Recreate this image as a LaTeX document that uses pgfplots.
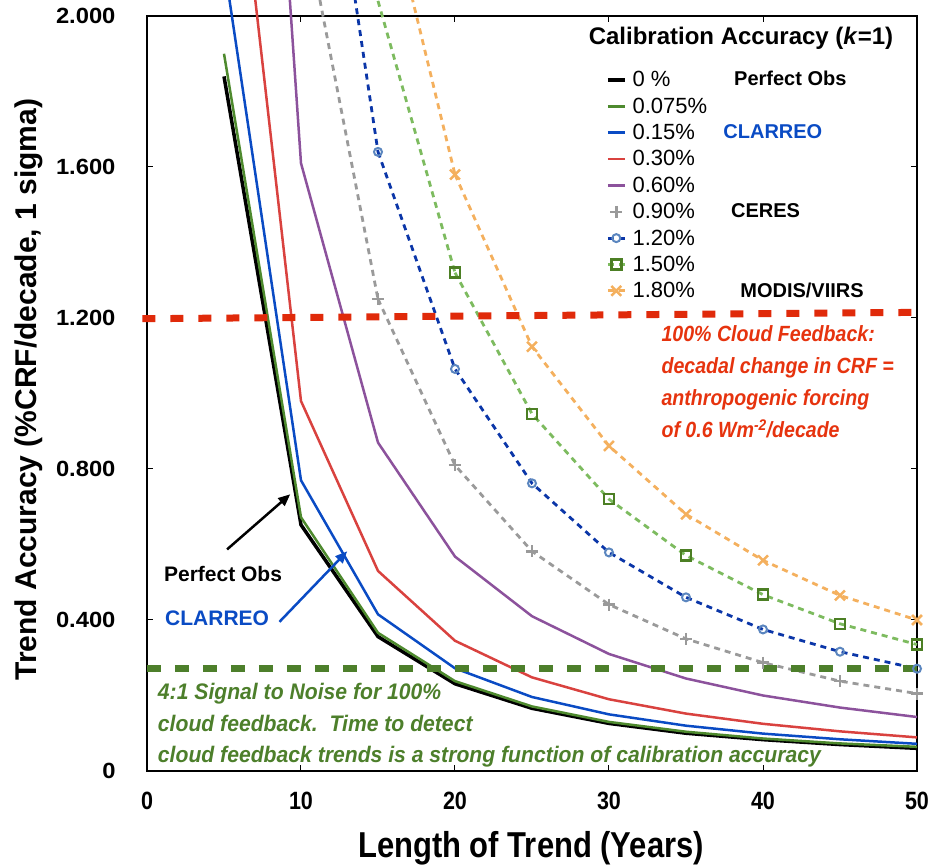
\documentclass[border=0pt]{standalone}
\usepackage{pgfplots}
\pgfplotsset{compat=1.18}
\usepackage{fontspec}
\setmainfont{Liberation Sans}
\newfontfamily\wideb[FakeStretch=1.08]{Liberation Sans}
\newfontfamily\condb[FakeStretch=0.86]{Liberation Sans}
\newfontfamily\condr[FakeStretch=0.89]{Liberation Sans}
\newfontfamily\condg[FakeStretch=0.94]{Liberation Sans}
\usetikzlibrary{arrows.meta}
\definecolor{cgreen}{HTML}{4E8A2E}
\definecolor{cblue}{HTML}{0A4BC4}
\definecolor{cred}{HTML}{D9423F}
\definecolor{cpurple}{HTML}{8C529C}
\definecolor{cgray}{HTML}{9A9A9A}
\definecolor{cdblue}{HTML}{0B36A8}
\definecolor{clblue}{HTML}{5B86BF}
\definecolor{clgreen}{HTML}{7DBB5F}
\definecolor{cdgreen}{HTML}{4C7F24}
\definecolor{corange}{HTML}{F4B05E}
\definecolor{hred}{HTML}{E02A0A}
\definecolor{hgreen}{HTML}{4D7F2B}
\definecolor{tred}{HTML}{E6330E}
\pgfplotsset{
  dashcurve/.style={line width=2.8pt, dash pattern=on 6pt off 5pt},
}
\begin{document}
\begin{tikzpicture}
\useasboundingbox (-147pt,-95pt) rectangle (783pt,771pt);
\begin{axis}[
  scale only axis, width=770pt, height=755pt,
  xmin=0, xmax=50, ymin=0, ymax=2,
  clip=false,
  xtick={0,10,20,30,40,50}, xticklabels={0,10,20,30,40,50},
  ytick={0,0.4,0.8,1.2,1.6,2.0}, yticklabels={0,0.400,0.800,1.200,1.600,2.000},
  tick align=inside, major tick length=6pt, tick style={black, line width=1pt},
  axis line style={line width=1.2pt},
  xticklabel style={font=\condb\bfseries\fontsize{25}{25}\selectfont, yshift=-18pt},
  yticklabel style={font=\wideb\bfseries\fontsize{22}{22}\selectfont, xshift=-28pt},
  xlabel={Length of Trend (Years)},
  xlabel style={font=\condb\bfseries\fontsize{36}{36}\selectfont, at={(axis description cs:0.4987,-0.102)}, anchor=center},
  ylabel={Trend Accuracy (\%CRF/decade, 1 sigma)},
  ylabel style={font=\bfseries\fontsize{30}{30}\selectfont, at={(axis description cs:-0.154,0.505)}, anchor=center},
  legend style={draw=none, fill=none, at={(rel axis cs:0.592,0.932)}, anchor=north west,
    font=\fontsize{22}{24}\selectfont, row sep=5.5pt, nodes={inner xsep=6pt}},
  legend cell align=left,
]
\addplot[black, line width=3.5pt] coordinates {(5,1.84)(10,0.652)(15,0.356)(20,0.231)(25,0.166)(30,0.126)(35,0.100)(40,0.083)(45,0.070)(50,0.060)};
\addlegendentry{0 \%}
\addplot[cgreen, line width=2.5pt] coordinates {(5,1.90)(10,0.672)(15,0.366)(20,0.238)(25,0.171)(30,0.130)(35,0.104)(40,0.086)(45,0.073)(50,0.064)};
\addlegendentry{0.075\%}
\addplot[cblue, line width=2.5pt] coordinates {(5,2.14)(10,0.77)(15,0.415)(20,0.272)(25,0.196)(30,0.150)(35,0.120)(40,0.099)(45,0.084)(50,0.072)};
\addlegendentry{0.15\%}
\addplot[cred, line width=2.5pt] coordinates {(5,2.77)(10,0.98)(15,0.53)(20,0.345)(25,0.248)(30,0.190)(35,0.152)(40,0.125)(45,0.105)(50,0.089)};
\addlegendentry{0.30\%}
\addplot[cpurple, line width=2.5pt] coordinates {(5,4.6)(10,1.61)(15,0.87)(20,0.568)(25,0.41)(30,0.31)(35,0.245)(40,0.200)(45,0.168)(50,0.143)};
\addlegendentry{0.60\%}
% segments running above the top edge (no marks)
\addplot[cgray, dashcurve, forget plot] coordinates {(10,2.30)(15,1.25)};
\addplot[cdblue, dashcurve, forget plot] coordinates {(10,3.0)(15,1.64)};
\addplot[clgreen, dashcurve, forget plot] coordinates {(15,2.04)(20,1.32)};
\addplot[corange, dashcurve, forget plot] coordinates {(15,2.42)(20,1.58)};
% marked series
\addplot[cgray, dashcurve, mark=+, mark size=6pt, mark options={solid, line width=2.5pt}, legend image post style={only marks}] coordinates {(15,1.25)(20,0.81)(25,0.582)(30,0.441)(35,0.35)(40,0.287)(45,0.238)(50,0.205)};
\addlegendentry{0.90\%}
\addplot[cdblue, dashcurve, mark=o, mark size=4pt, mark options={solid, draw=clblue, fill=white, line width=2pt}] coordinates {(15,1.64)(20,1.065)(25,0.762)(30,0.579)(35,0.46)(40,0.375)(45,0.316)(50,0.271)};
\addlegendentry{1.20\%}
\addplot[clgreen, dashcurve, mark=square, mark size=5pt, mark options={solid, draw=cdgreen, fill=white, line width=2.5pt}] coordinates {(20,1.32)(25,0.946)(30,0.72)(35,0.571)(40,0.467)(45,0.39)(50,0.335)};
\addlegendentry{1.50\%}
\addplot[corange, dashcurve, mark=x, mark size=7pt, mark options={solid, line width=2.5pt}] coordinates {(20,1.58)(25,1.124)(30,0.861)(35,0.68)(40,0.558)(45,0.465)(50,0.40)};
\addlegendentry{1.80\%}
\addplot[hred, line width=7pt, dash pattern=on 13pt off 15pt, forget plot] coordinates {(-0.3,1.198)(50.3,1.215)};
\addplot[hgreen, line width=7pt, dash pattern=on 14pt off 14pt, forget plot] coordinates {(0,0.271)(50,0.271)};
% legend title and side labels
\node[font=\bfseries\fontsize{24}{24}\selectfont, anchor=center] at (axis cs:38.57,1.94) {Calibration Accuracy (\textit{k}=1)};
\node[font=\bfseries\fontsize{20}{20}\selectfont, anchor=west] at (axis cs:37.9,1.835) {Perfect Obs};
\node[font=\bfseries\fontsize{20}{20}\selectfont, anchor=west, text=cblue] at (axis cs:37.2,1.695) {CLARREO};
\node[font=\bfseries\fontsize{20}{20}\selectfont, anchor=west] at (axis cs:37.7,1.485) {CERES};
\node[font=\bfseries\fontsize{20}{20}\selectfont, anchor=west] at (axis cs:38.3,1.272) {MODIS/VIIRS};
% annotations
\node[font=\condr\bfseries\itshape\fontsize{22}{32}\selectfont, text=tred, anchor=north west, align=left, inner sep=0pt] at (axis cs:33.4,1.18) {100\% Cloud Feedback:\\decadal change in CRF =\\anthropogenic forcing\\of 0.6 Wm\textsuperscript{-2}/decade};
\node[font=\condg\bfseries\itshape\fontsize{22.5}{31.5}\selectfont, text=hgreen, anchor=north west, align=left, inner sep=0pt] at (axis cs:0.7,0.232) {4:1 Signal to Noise for 100\%\\cloud feedback.\ \ Time to detect\\cloud feedback trends is a strong function of calibration accuracy};
\node[font=\bfseries\fontsize{21}{21}\selectfont, anchor=west, inner sep=0pt] at (axis cs:1.1,0.523) {Perfect Obs};
\node[font=\bfseries\fontsize{21}{21}\selectfont, anchor=west, inner sep=0pt, text=cblue] at (axis cs:1.17,0.404) {CLARREO};
\draw[black, line width=2.5pt, -{Triangle[length=12pt,width=10pt]}] (axis cs:5.2,0.587) -- (axis cs:9.3,0.733);
\draw[cblue, line width=2.5pt, -{Triangle[length=12pt,width=10pt]}] (axis cs:8.6,0.395) -- (axis cs:13.0,0.582);
\end{axis}
\end{tikzpicture}
\end{document}
